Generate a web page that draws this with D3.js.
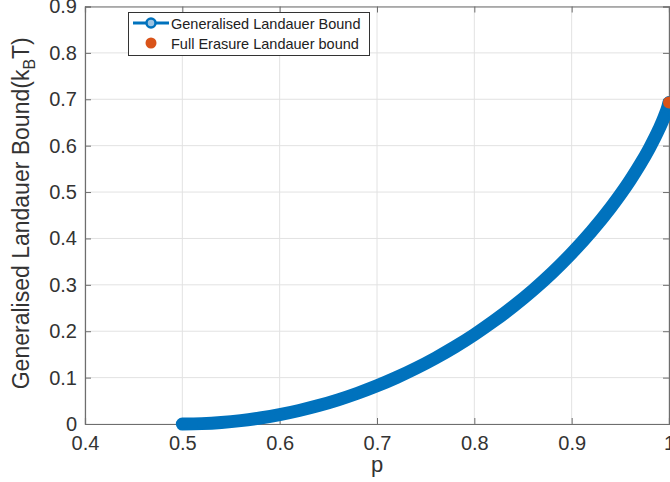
<!DOCTYPE html>
<html>
<head>
<meta charset="utf-8">
<script src="https://cdn.jsdelivr.net/npm/d3@7"></script>
<style>
  html, body { margin: 0; padding: 0; background: #fff; }
  svg { display: block; }
  text { font-family: "Liberation Sans", Arial, Helvetica, sans-serif; }
</style>
</head>
<body>
<svg id="chart" width="670" height="482"></svg>
<script>
// Erasure probability p
const pValues = [0.50, 0.52, 0.54, 0.56, 0.58, 0.60, 0.62, 0.64, 0.66, 0.68,
                 0.70, 0.72, 0.74, 0.76, 0.78, 0.80, 0.82, 0.84, 0.86, 0.88,
                 0.90, 0.92, 0.94, 0.96, 0.97, 0.98, 0.99, 0.995, 0.999, 1.00];
// Generalised Landauer bound in units of k_B T
const boundValues = [0.0000, 0.0008, 0.0032, 0.0072, 0.0129, 0.0201, 0.0291, 0.0397, 0.0521, 0.0663,
                     0.0823, 0.1002, 0.1201, 0.1421, 0.1662, 0.1927, 0.2218, 0.2535, 0.2882, 0.3262,
                     0.3681, 0.4144, 0.4662, 0.5252, 0.5584, 0.5951, 0.6371, 0.6617, 0.6852, 0.6931];
// Full erasure point
const fullP = [1.0];
const fullBound = [0.6931];

const xTicks = [0.4, 0.5, 0.6, 0.7, 0.8, 0.9, 1];
const yTicks = [0, 0.1, 0.2, 0.3, 0.4, 0.5, 0.6, 0.7, 0.8, 0.9];
const legendLabels = ["Generalised Landauer Bound", "Full Erasure Landauer bound"];

const blue = "#0072BD";
const orange = "#D95319";
const axisColor = "#6e6e6e";
const textColor = "#333333";

const svg = d3.select("#chart");
const plotLeft = 85, plotRight = 669, plotTop = 6.5, plotBottom = 424;

const x = d3.scaleLinear().domain([0.4, 1.0]).range([plotLeft, plotRight]);
const y = d3.scaleLinear().domain([0, 0.9]).range([plotBottom, plotTop]);

// Grid
const grid = svg.append("g");
grid.selectAll("line.gx").data(xTicks).join("line").attr("class", "gx")
  .attr("x1", d => x(d)).attr("x2", d => x(d))
  .attr("y1", plotTop).attr("y2", plotBottom)
  .attr("stroke", "#e2e2e2").attr("stroke-width", 1);
grid.selectAll("line.gy").data(yTicks).join("line").attr("class", "gy")
  .attr("y1", d => y(d)).attr("y2", d => y(d))
  .attr("x1", plotLeft).attr("x2", plotRight)
  .attr("stroke", "#e2e2e2").attr("stroke-width", 1);

// Axes (ticks pointing inward, box on all four sides)
const tickLen = 6;
const xAxis = svg.append("g").attr("transform", `translate(0,${plotBottom})`)
  .call(d3.axisBottom(x).tickValues(xTicks).tickSize(-tickLen).tickPadding(12)
        .tickFormat(d => d === 1 ? "1" : d3.format(".1f")(d)));
const yAxis = svg.append("g").attr("transform", `translate(${plotLeft},0)`)
  .call(d3.axisLeft(y).tickValues(yTicks).tickSize(-tickLen).tickPadding(8)
        .tickFormat(d => d === 0 ? "0" : d3.format(".1f")(d)));
const xTopAxis = svg.append("g").attr("transform", `translate(0,${plotTop})`)
  .call(d3.axisTop(x).tickValues(xTicks).tickSize(-tickLen).tickFormat(""));
const yRightAxis = svg.append("g").attr("transform", `translate(${plotRight},0)`)
  .call(d3.axisRight(y).tickValues(yTicks).tickSize(-tickLen).tickFormat(""));

[xAxis, yAxis, xTopAxis, yRightAxis].forEach(g => {
  g.select(".domain").attr("stroke", axisColor).attr("stroke-width", 1.2);
  g.selectAll(".tick line").attr("stroke", axisColor).attr("stroke-width", 1);
  g.selectAll(".tick text").attr("fill", textColor)
    .style("font-size", "20px").style("font-family", "'Liberation Sans', Arial, sans-serif");
});

// Curve: dense circle markers form a thick band
const line = d3.line().x((d, i) => x(pValues[i])).y(d => y(d)).curve(d3.curveMonotoneX);
svg.append("path").datum(boundValues)
  .attr("d", line)
  .attr("fill", "none")
  .attr("stroke", blue)
  .attr("stroke-width", 13)
  .attr("stroke-linecap", "round")
  .attr("stroke-linejoin", "round");
svg.append("g").selectAll("circle").data(boundValues).join("circle")
  .attr("cx", (d, i) => x(pValues[i])).attr("cy", d => y(d))
  .attr("r", 5).attr("fill", blue);

// Full erasure marker
svg.append("g").selectAll("circle").data(fullBound).join("circle")
  .attr("cx", (d, i) => x(fullP[i])).attr("cy", d => y(d))
  .attr("r", 6).attr("fill", orange);

// Axis labels
svg.append("text")
  .attr("x", (plotLeft + plotRight) / 2).attr("y", 472)
  .attr("text-anchor", "middle").attr("fill", textColor)
  .style("font-size", "22px").text("p");

const yl = svg.append("text")
  .attr("transform", `translate(29,${(plotTop + plotBottom) / 2 - 2}) rotate(-90)`)
  .attr("text-anchor", "middle").attr("fill", textColor)
  .style("font-size", "23px");
yl.append("tspan").text("Generalised Landauer Bound(k");
yl.append("tspan").attr("dy", 6).style("font-size", "16px").text("B");
yl.append("tspan").attr("dy", -6).text("T)");

// Legend
const lg = svg.append("g");
lg.append("rect").attr("x", 128.5).attr("y", 12.5).attr("width", 241).attr("height", 43)
  .attr("fill", "#fff").attr("stroke", "#333").attr("stroke-width", 1);
lg.append("line").attr("x1", 133).attr("x2", 169).attr("y1", 23).attr("y2", 23)
  .attr("stroke", blue).attr("stroke-width", 3);
lg.append("circle").attr("cx", 151).attr("cy", 23).attr("r", 4.5)
  .attr("fill", "#9cc3e2").attr("stroke", blue).attr("stroke-width", 2.5);
lg.append("circle").attr("cx", 151).attr("cy", 43).attr("r", 5.5).attr("fill", orange);
lg.selectAll("text").data(legendLabels).join("text")
  .attr("x", 171).attr("y", (d, i) => 28.5 + i * 20)
  .attr("fill", "#222").style("font-size", "14.5px").text(d => d);
</script>
</body>
</html>
